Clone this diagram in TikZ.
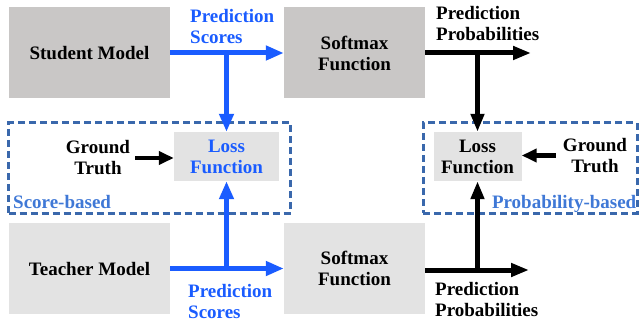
\documentclass[tikz,border=0pt]{standalone}
\usepackage{fontspec}
\setmainfont{Liberation Serif}
\usetikzlibrary{arrows.meta,positioning}
\definecolor{modelgray}{HTML}{C9C7C6}
\definecolor{lightbox}{HTML}{E3E3E3}
\definecolor{scoreblue}{HTML}{1A5CFF}
\definecolor{labelblue}{HTML}{3F78D6}
\definecolor{dashblue}{HTML}{3A68AC}
\tikzset{
  base/.style={%
    align=center,inner sep=0pt,
    font=\bfseries\fontsize{19}{21}\selectfont,
  },
  model/.style={%
    base,
    minimum width=161pt,
    minimum height=91pt,
  },
  softmax/.style={%
    base,
    minimum width=141pt,
    minimum height=91pt,
  },
  loss/.style={%
    base,fill=lightbox,
    minimum height=49pt,
  },
  dashbox/.style={%
    draw=dashblue,line width=3pt,
    dash pattern=on 7pt off 4pt,
    minimum height=90pt,inner sep=0pt,
  },
  outlabel/.style={%
    base,align=left,anchor=north west,
  },
  scorearrow/.style={%
    draw=scoreblue,line width=5pt,
    -{Triangle[length=18pt,width=14pt]},
  },
  probarrow/.style={%
    draw=black,line width=5pt,
    -{Triangle[length=18pt,width=13pt]},
  },
  gtarrow/.style={%
    draw=black,line width=4.5pt,
    -{Triangle[length=15pt,width=13pt]},
  }
}
\begin{document}
\begin{tikzpicture}[x=1pt,y=-1pt]
\useasboundingbox (0,0) rectangle (639,323);
% models and softmax
\node[model,fill=modelgray] (student) at (89.5,53) {Student Model};
\node[softmax,fill=modelgray] (smtop) at (354.5,53) {Softmax\\Function};
\node[model,fill=lightbox] (teacher) at (89.5,268.5) {Teacher Model};
\node[softmax,fill=lightbox] (smbot) at (354.5,268.5) {Softmax\\Function};
% loss groups
\node[dashbox,minimum width=282pt] (scorebox) at (149.5,168) {};
\node[dashbox,minimum width=214pt] (probbox) at (530,168) {};
\node[loss,minimum width=105pt,text=scoreblue] (lossS) at (226.5,156.5) {Loss\\Function};
\node[loss,minimum width=88pt] (lossP) at (477.5,156.5) {Loss\\Function};
\node[base] (gtS) at (98,158) {Ground\\Truth};
\node[base] (gtP) at (595,155.5) {Ground\\Truth};
\node[base,anchor=base west,text=labelblue] (scorelbl) at ([xshift=6pt,yshift=6pt]scorebox.south west) {Score-based};
\node[base,anchor=base east,text=labelblue] (problbl) at ([xshift=-2pt,yshift=6pt]probbox.south east) {Probability-based};
% output labels
\node[outlabel,text=scoreblue] (scoretop) at (190,9) {Prediction\\Scores};
\node[outlabel] (probtop) at (436,6) {Prediction\\Probabilities};
\node[outlabel,text=scoreblue] (scorebot) at (188,284) {Prediction\\Scores};
\node[outlabel] (probbot) at (435,282) {Prediction\\Probabilities};
\coordinate (outtop) at (531,53);
\coordinate (outbot) at (529,270);
% score path
\draw[scorearrow] (student.east) -- (smtop.west);
\draw[scorearrow] (student.east -| lossS) -- (lossS.north);
\draw[scorearrow] (teacher.east) -- (smbot.west);
\draw[scorearrow] (teacher.east -| lossS) -- (lossS.south);
% probability path
\draw[probarrow] (smtop.east) -- (outtop);
\draw[probarrow] (smtop.east -| lossP) -- (lossP.north);
\draw[probarrow] (outbot -| smbot.east) -- (outbot);
\draw[probarrow] (outbot -| lossP) -- (lossP.south);
% ground truth
\draw[gtarrow,shorten <=5pt] (gtS.east) -- (gtS.east -| lossS.west);
\draw[gtarrow,shorten <=7pt] (gtP.west) -- (gtP.west -| lossP.east);
\end{tikzpicture}
\end{document}
